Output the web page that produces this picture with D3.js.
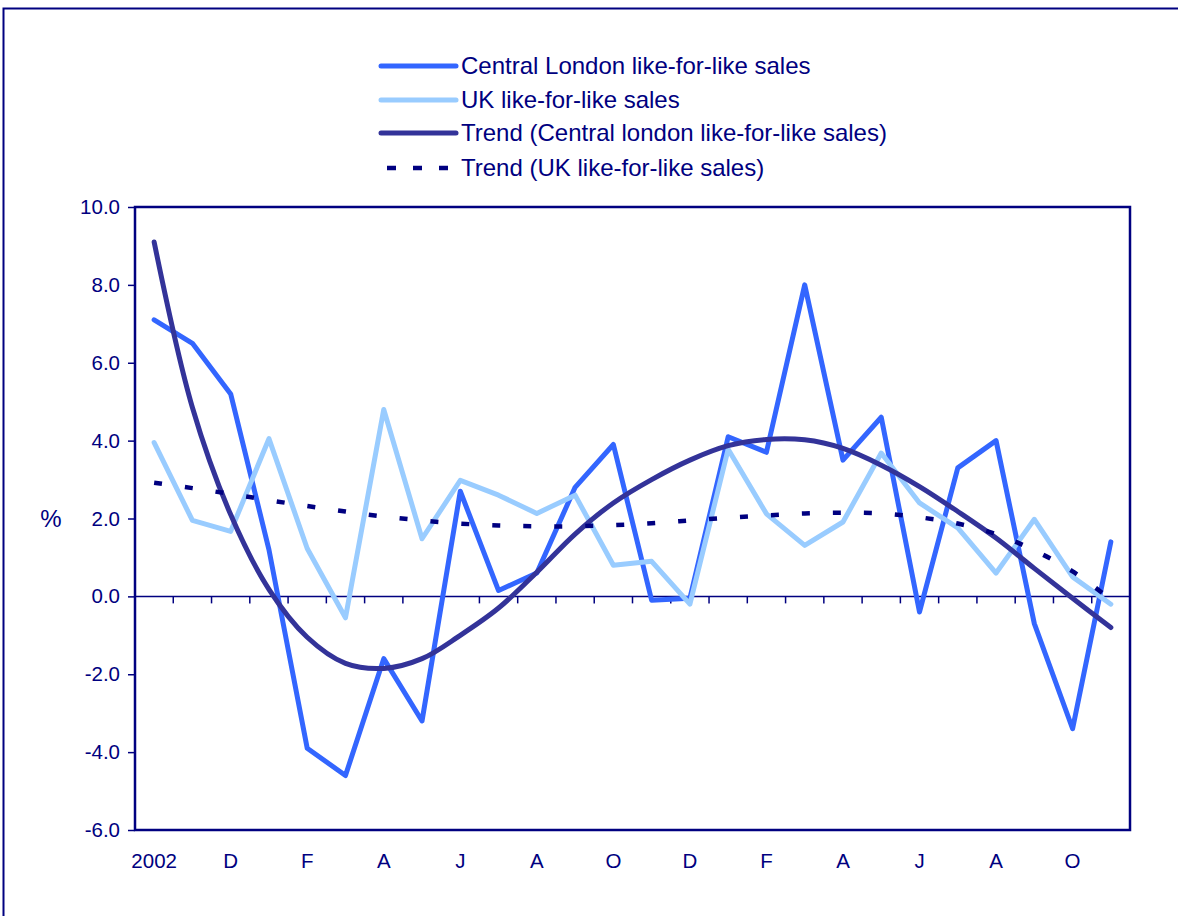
<!DOCTYPE html>
<html><head><meta charset="utf-8">
<script src="https://cdn.jsdelivr.net/npm/d3@7"></script>
<style>body{margin:0;background:#fff} svg{display:block}</style>
</head><body><svg id="c" width="1178" height="916"></svg>
<script>
const categories = ["Oct-02","Nov-02","Dec-02","Jan-03","Feb-03","Mar-03","Apr-03","May-03","Jun-03","Jul-03","Aug-03","Sep-03","Oct-03","Nov-03","Dec-03","Jan-04","Feb-04","Mar-04","Apr-04","May-04","Jun-04","Jul-04","Aug-04","Sep-04","Oct-04","Nov-04"];
const xTickLabels = ["2002","D","F","A","J","A","O","D","F","A","J","A","O"];
const yTicks = [-6,-4,-2,0,2,4,6,8,10];
const centralLondon = [7.1,6.5,5.2,1.2,-3.9,-4.6,-1.6,-3.2,2.7,0.15,0.6,2.8,3.9,-0.1,-0.05,4.1,3.7,8.0,3.5,4.6,-0.4,3.3,4.0,-0.7,-3.4,1.4];
const ukSales = [3.95,1.95,1.67,4.05,1.23,-0.55,4.8,1.48,2.98,2.6,2.13,2.6,0.8,0.9,-0.2,3.78,2.12,1.31,1.91,3.68,2.4,1.76,0.6,1.98,0.5,-0.2];
const trendCentral = [9.1,4.85,2.1,0.18,-1.05,-1.72,-1.85,-1.6,-1.0,-0.3,0.62,1.6,2.4,3.0,3.5,3.87,4.03,4.02,3.8,3.37,2.82,2.18,1.5,0.72,-0.05,-0.8];
const trendUK = [2.92,2.78,2.63,2.47,2.32,2.18,2.05,1.95,1.87,1.82,1.8,1.8,1.83,1.88,1.95,2.02,2.08,2.13,2.15,2.13,2.03,1.87,1.6,1.18,0.64,-0.08];
const seriesNames = ["Central London like-for-like sales","UK like-for-like sales","Trend (Central london like-for-like sales)","Trend (UK like-for-like sales)"];
const yLabel = "%";

const navy = "#000080";
const font = "'Liberation Sans', Arial, sans-serif";
const svg = d3.select("#c");

// outer border (extends past right/bottom of view)
svg.append("rect").attr("x",3.5).attr("y",8.5).attr("width",1400).attr("height",1100)
  .attr("fill","none").attr("stroke",navy).attr("stroke-width",2);

const L = 135, R = 1130, T = 207, B = 830;
const x = d3.scaleBand().domain(categories).range([L,R]);
const y = d3.scaleLinear().domain([-6,10]).range([B,T]);
const cx = c => x(c) + x.bandwidth()/2;

// y axis
const ya = svg.append("g").attr("transform",`translate(${L},0)`)
  .call(d3.axisLeft(y).tickValues(yTicks).tickFormat(d=>d.toFixed(1)).tickSize(7).tickPadding(8));
ya.select(".domain").remove();
ya.selectAll(".tick line").attr("stroke",navy).attr("stroke-width",1.5);
ya.selectAll(".tick text").attr("fill",navy).style("font-family",font).style("font-size","20.5px");

// zero line with ticks at category boundaries
svg.append("line").attr("x1",L).attr("x2",R).attr("y1",y(0)).attr("y2",y(0))
  .attr("stroke",navy).attr("stroke-width",1.5);
svg.append("g").selectAll("line").data(categories.slice(1)).join("line")
  .attr("x1",d=>x(d)).attr("x2",d=>x(d)).attr("y1",y(0)).attr("y2",y(0)+7)
  .attr("stroke",navy).attr("stroke-width",1.5);

// x labels
svg.append("g").selectAll("text").data(categories.filter((d,i)=>i%2===0)).join("text")
  .attr("x",d=>cx(d)).attr("y",B+38).attr("text-anchor","middle")
  .attr("fill",navy).style("font-family",font).style("font-size","20.5px")
  .text((d,i)=>xTickLabels[i]);

// y label
svg.append("text").attr("x",51).attr("y",y(2)+8).attr("text-anchor","middle")
  .attr("fill",navy).style("font-family",font).style("font-size","24px").text(yLabel);

const styles = [
  {data:centralLondon, color:"#3366FF", width:5, curve:d3.curveLinear, dash:null},
  {data:ukSales, color:"#99CCFF", width:5, curve:d3.curveLinear, dash:null},
  {data:trendCentral, color:"#333399", width:5, curve:d3.curveCatmullRom, dash:null},
  {data:trendUK, color:navy, width:4.5, curve:d3.curveCatmullRom, dash:"8,23"}
];
styles.forEach(s=>{
  const line = d3.line().x((d,i)=>cx(categories[i])).y(d=>y(d)).curve(s.curve);
  svg.append("path").attr("d",line(s.data)).attr("fill","none")
    .attr("stroke",s.color).attr("stroke-width",s.width)
    .attr("stroke-linejoin","round").attr("stroke-linecap",s.dash?"butt":"round")
    .attr("stroke-dasharray",s.dash);
});

// frame
svg.append("rect").attr("x",L).attr("y",T).attr("width",R-L).attr("height",B-T)
  .attr("fill","none").attr("stroke",navy).attr("stroke-width",2.5);

// legend
const legY = [66,100,133,168];
const lg = svg.append("g");
seriesNames.forEach((n,i)=>{
  const s = styles[i];
  lg.append("line").attr("x1",s.dash?387:381).attr("x2",s.dash?453:456).attr("y1",legY[i]).attr("y2",legY[i])
    .attr("stroke",s.color).attr("stroke-width",s.width)
    .attr("stroke-linecap",s.dash?"butt":"round").attr("stroke-dasharray",s.dash?"9,17":null);
  lg.append("text").attr("x",461).attr("y",legY[i]).attr("dy","0.35em")
    .attr("fill",navy).style("font-family",font).style("font-size","24px").text(n);
});
</script></body></html>
